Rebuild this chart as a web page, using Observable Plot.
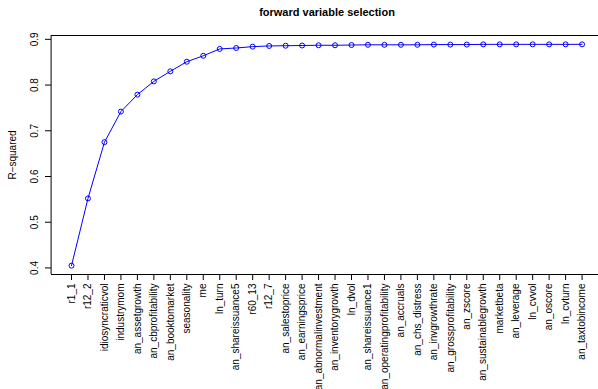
<!DOCTYPE html>
<html>
<head>
<meta charset="utf-8">
<script src="https://cdn.jsdelivr.net/npm/d3@7"></script>
<script src="https://cdn.jsdelivr.net/npm/@observablehq/plot@0.6"></script>
<style>
  html, body { margin: 0; padding: 0; background: #fff; }
  #chart svg { display: block; }
</style>
</head>
<body>
<div id="chart"></div>
<script>
// Variables in the order they enter the model
const variables = [
  "r1_1", "r12_2", "idiosyncraticvol", "industrymom", "an_assetgrowth",
  "an_cbprofitability", "an_booktomarket", "seasonality", "me", "ln_turn",
  "an_shareissuance5", "r60_13", "r12_7", "an_salestoprice", "an_earningsprice",
  "an_abnormalinvestment", "an_inventorygrowth", "ln_dvol", "an_shareissuance1",
  "an_operatingprofitability", "an_accruals", "an_chs_distress", "an_invgrowthrate",
  "an_grossprofitability", "an_zscore", "an_sustainablegrowth", "marketbeta",
  "an_leverage", "ln_cvvol", "an_oscore", "ln_cvturn", "an_taxtobincome"
];

// Cumulative R-squared after adding each variable
const rsquared = [
  0.405, 0.552, 0.675, 0.742, 0.779, 0.808, 0.830, 0.851, 0.864, 0.879,
  0.881, 0.884, 0.8855, 0.886, 0.8865, 0.887, 0.887, 0.8875, 0.888, 0.888,
  0.888, 0.888, 0.8885, 0.8885, 0.8885, 0.889, 0.889, 0.889, 0.889, 0.889,
  0.889, 0.889
];

const yTicks = [0.4, 0.5, 0.6, 0.7, 0.8, 0.9];

const rows = variables.map((name, i) => ({ step: i + 1, name, r2: rsquared[i] }));

// Axis limits padded by 4% on each side
const pad = (lo, hi) => [lo - 0.04 * (hi - lo), hi + 0.04 * (hi - lo)];
const xDomain = pad(1, variables.length);
const yDomain = pad(d3.min(rsquared), d3.max(rsquared));

const W = 598, H = 389;
const mLeft = 51, mTop = 35, mBottom = 115;
const font = "'Liberation Sans', Arial, Helvetica, sans-serif";

const chart = Plot.plot({
  width: W,
  height: H,
  marginLeft: mLeft,
  marginRight: 0,
  marginTop: mTop,
  marginBottom: mBottom,
  style: { fontFamily: font, fontSize: "10px", color: "#000", background: "#fff" },
  x: { type: "linear", domain: xDomain, range: [mLeft - 0.4, 602], axis: null, label: null },
  y: { domain: yDomain, axis: null, label: null },
  marks: [
    // plot box
    Plot.ruleY([yDomain[0]], { stroke: "#000", strokeWidth: 1 }),
    Plot.ruleY([yDomain[1]], { stroke: "#000", strokeWidth: 1 }),
    Plot.ruleX([xDomain[0]], { stroke: "#000", strokeWidth: 1 }),
    // x axis: ticks and rotated variable names
    Plot.axisX(rows.map(d => d.step), {
      anchor: "bottom", tickSize: 6, tickFormat: () => "", label: null, stroke: "#000"
    }),
    Plot.text(rows, {
      x: "step", text: "name", frameAnchor: "bottom", dy: 9,
      rotate: -90, textAnchor: "end", lineAnchor: "middle",
      fontSize: 10, fill: "#000"
    }),
    // y axis: ticks and rotated labels
    Plot.axisY(yTicks, {
      anchor: "left", tickSize: 6, tickFormat: () => "", label: null, stroke: "#000"
    }),
    Plot.text(yTicks, {
      y: d => d, text: d => d.toFixed(1), frameAnchor: "left", dx: -17,
      rotate: -90, textAnchor: "middle", lineAnchor: "middle",
      fontSize: 10, fill: "#000"
    }),
    // axis title
    Plot.text(["R\u2212squared"], {
      frameAnchor: "left", dx: -39, rotate: -90,
      textAnchor: "middle", lineAnchor: "middle", fontSize: 10, fill: "#000"
    }),
    // chart title
    Plot.text(["forward variable selection"], {
      frameAnchor: "top", dy: -23, dx: 2, textAnchor: "middle", lineAnchor: "middle",
      fontSize: 11, fontWeight: "bold", fill: "#000"
    }),
    // series
    Plot.line(rows, { x: "step", y: "r2", stroke: "#0000ff", strokeWidth: 1 }),
    Plot.dot(rows, { x: "step", y: "r2", r: 2.5, stroke: "#0000ff", strokeWidth: 1, fill: "none" })
  ]
});

document.getElementById("chart").appendChild(chart);
</script>
</body>
</html>
